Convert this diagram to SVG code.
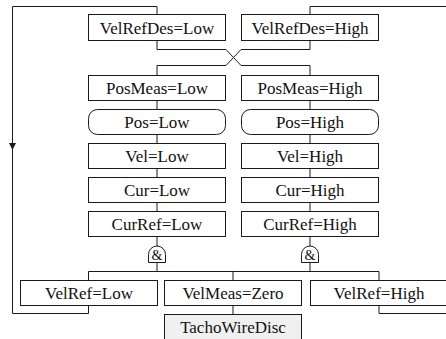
<svg xmlns="http://www.w3.org/2000/svg" width="446" height="339" viewBox="0 0 446 339">
  <style>
    .box { fill: #ffffff; stroke: #1a1a1a; stroke-width: 1; }
    .cond { fill: #f0f0f0; stroke: #1a1a1a; stroke-width: 1; }
    .wire { fill: none; stroke: #1a1a1a; stroke-width: 1; }
    .lbl { font-family: 'Liberation Serif', serif; font-size: 17px; fill: #111; text-anchor: middle; }
    .amp { font-family: 'Liberation Serif', serif; font-size: 14px; fill: #111; text-anchor: middle; }
  </style>
  <rect x="0" y="0" width="446" height="339" fill="#ffffff"/>

  <!-- connectors -->
  <g id="connectors">
    <!-- feedback loop on the left -->
    <path class="wire" d="M88.5,305.5 V313.5 H12.5 V6.5 H157 V14.5"/>
    <polygon points="9,143 16,143 12.5,150" fill="#1a1a1a"/>
    <!-- feedback loop on the right -->
    <path class="wire" d="M310,14.5 V6.5 H450"/>
    <path class="wire" d="M379,305.5 V313.5 H450"/>
    <!-- crossover between the two columns -->
    <path class="wire" d="M157,40.5 V49.5 H226 L241,65.5 H310 V75.5"/>
    <path class="wire" d="M310,40.5 V49.5 H241 L226,65.5 H157 V75.5"/>
    <!-- left chain -->
    <path class="wire" d="M157,100.5 V109.5 M157,134.5 V143.5 M157,168.5 V177.5 M157,202.5 V211.5 M157,236.5 V246 M157,262.5 V271.5"/>
    <!-- right chain -->
    <path class="wire" d="M310,100.5 V109.5 M310,134.5 V143.5 M310,168.5 V177.5 M310,202.5 V211.5 M310,236.5 V246 M310,262.5 V271.5"/>
    <!-- bottom bus -->
    <path class="wire" d="M88.5,280.5 V271.5 H379 V280.5 M233,271.5 V280.5 M233,305.5 V314.5"/>
  </g>

  <g id="nodes" font-family="Liberation Serif">
  <!-- left column -->
  <g id="VelRefDesLow">
    <rect class="box" x="88.5" y="14.5" width="137" height="26"/>
    <text class="lbl" x="157" y="33.5">VelRefDes=Low</text>
  </g>
  <g id="PosMeasLow">
    <rect class="box" x="88.5" y="75.5" width="137" height="25"/>
    <text class="lbl" x="157" y="94">PosMeas=Low</text>
  </g>
  <g id="PosLow">
    <rect class="box" x="88.5" y="109.5" width="137" height="25" rx="9" ry="9"/>
    <text class="lbl" x="157" y="128">Pos=Low</text>
  </g>
  <g id="VelLow">
    <rect class="box" x="88.5" y="143.5" width="137" height="25"/>
    <text class="lbl" x="157" y="162">Vel=Low</text>
  </g>
  <g id="CurLow">
    <rect class="box" x="88.5" y="177.5" width="137" height="25"/>
    <text class="lbl" x="157" y="196">Cur=Low</text>
  </g>
  <g id="CurRefLow">
    <rect class="box" x="88.5" y="211.5" width="137" height="25"/>
    <text class="lbl" x="157" y="230">CurRef=Low</text>
  </g>
  <g id="AndLow">
    <path class="box" d="M148.5,262.5 V254.5 A8.5,8.5 0 0 1 165.5,254.5 V262.5 Z"/>
    <text class="amp" x="157" y="259.5">&amp;</text>
  </g>

  <!-- right column -->
  <g id="VelRefDesHigh">
    <rect class="box" x="241.5" y="14.5" width="137" height="26"/>
    <text class="lbl" x="310" y="33.5">VelRefDes=High</text>
  </g>
  <g id="PosMeasHigh">
    <rect class="box" x="241.5" y="75.5" width="137" height="25"/>
    <text class="lbl" x="310" y="94">PosMeas=High</text>
  </g>
  <g id="PosHigh">
    <rect class="box" x="241.5" y="109.5" width="137" height="25" rx="9" ry="9"/>
    <text class="lbl" x="310" y="128">Pos=High</text>
  </g>
  <g id="VelHigh">
    <rect class="box" x="241.5" y="143.5" width="137" height="25"/>
    <text class="lbl" x="310" y="162">Vel=High</text>
  </g>
  <g id="CurHigh">
    <rect class="box" x="241.5" y="177.5" width="137" height="25"/>
    <text class="lbl" x="310" y="196">Cur=High</text>
  </g>
  <g id="CurRefHigh">
    <rect class="box" x="241.5" y="211.5" width="137" height="25"/>
    <text class="lbl" x="310" y="230">CurRef=High</text>
  </g>
  <g id="AndHigh">
    <path class="box" d="M301.5,262.5 V254.5 A8.5,8.5 0 0 1 318.5,254.5 V262.5 Z"/>
    <text class="amp" x="310" y="259.5">&amp;</text>
  </g>

  <!-- bottom row -->
  <g id="VelRefLow">
    <rect class="box" x="20.5" y="280.5" width="137" height="25"/>
    <text class="lbl" x="89" y="299">VelRef=Low</text>
  </g>
  <g id="VelMeasZero">
    <rect class="box" x="164.5" y="280.5" width="137" height="25"/>
    <text class="lbl" x="233" y="299">VelMeas=Zero</text>
  </g>
  <g id="VelRefHigh">
    <rect class="box" x="310.5" y="280.5" width="137" height="25"/>
    <text class="lbl" x="379" y="299">VelRef=High</text>
  </g>
  <g id="TachoWireDisc">
    <rect class="cond" x="164.5" y="314.5" width="137" height="30"/>
    <text class="lbl" x="233" y="333">TachoWireDisc</text>
  </g>
  </g>
</svg>
